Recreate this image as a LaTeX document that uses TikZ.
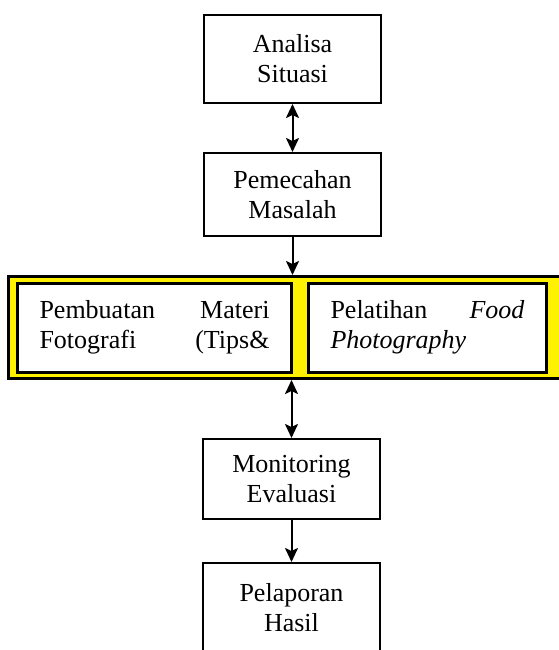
\documentclass[tikz,border=0pt]{standalone}
\usepackage{fontspec}
\setmainfont{Liberation Serif}
\usetikzlibrary{arrows.meta}

\begin{document}
\begin{tikzpicture}[x=1pt,y=-1pt,
  box/.style={draw,line width=2pt,minimum width=177pt,text width=160pt,align=center,inner sep=0pt,font=\fontsize{26}{30}\selectfont},
  subbox/.style={draw,fill=white,line width=3pt,minimum height=89pt,inner xsep=22pt,inner ysep=0pt,align=left,font=\fontsize{26}{30}\selectfont},
  link/.style={line width=2pt,-{Stealth[length=14pt,width=13pt,inset=3pt]}},
  linkboth/.style={line width=2pt,{Stealth[length=14pt,width=13pt,inset=3pt]}-{Stealth[length=14pt,width=13pt,inset=3pt]}}]
\useasboundingbox (0,0) rectangle (558,650);
% Drawing boxes
\node (analisa) [box,minimum height=88pt] at (292.5,59) {Analisa\\Situasi};
\node (pemecahan) [box,minimum height=83pt] at (292.5,194.5) {Pemecahan\\Masalah};
% Yellow frame with two activities
\node (frame) [draw,fill=yellow,line width=3pt,minimum width=554pt,minimum height=102pt,inner sep=0pt] at (285.75,327.5) {};
\node (materi) [subbox,text width=230pt] at (154.5,327.5) {Pembuatan\hfill Materi\\Fotografi\hfill (Tips\&};
\node (pelatihan) [subbox,text width=194pt] at (427.5,327.5) {Pelatihan\hfill \textit{Food}\\\textit{Photography}};
\node (monitoring) [box,minimum height=80pt] at (291.5,479) {Monitoring\\Evaluasi};
\node (pelaporan) [box,minimum height=90pt] at (291.5,608) {Pelaporan\\Hasil};
% Drawing arrows
\draw[linkboth] (analisa) -- (pemecahan);
\draw[link] (pemecahan) -- (pemecahan |- frame.north);
\draw[linkboth] (frame.south -| monitoring.north) -- (monitoring);
\draw[link] (monitoring) -- (pelaporan);
\end{tikzpicture}
\end{document}
